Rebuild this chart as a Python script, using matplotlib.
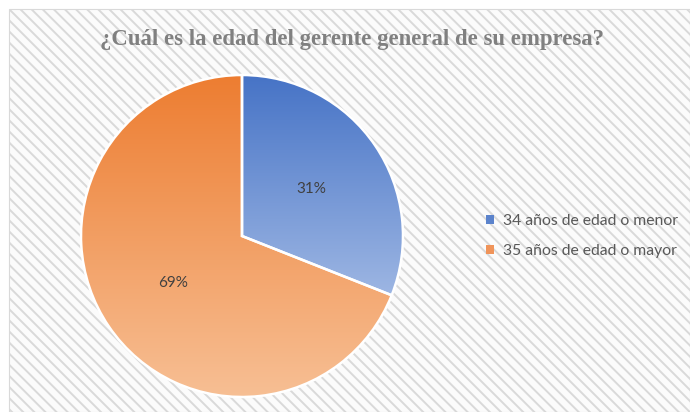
import matplotlib
matplotlib.use("Agg")
import matplotlib.pyplot as plt
import numpy as np
from matplotlib.colors import LinearSegmentedColormap
from matplotlib.patches import Rectangle, Patch

categories = ["34 años de edad o menor", "35 años de edad o mayor"]
values = [31, 69]
title = "¿Cuál es la edad del gerente general de su empresa?"
grad_top = ["#4673C6", "#ED7D31"]
grad_bottom = ["#9DB6E3", "#F7BF94"]
legend_colors = ["#5B83CC", "#F0945A"]

W, H = 690, 412
fig = plt.figure(figsize=(W / 100, H / 100), dpi=100)
fig.patch.set_facecolor("white")

# hatched chart area background
plt.rcParams["hatch.linewidth"] = 1.4
plt.rcParams["hatch.color"] = "#EBEBEB"
bg = Rectangle((9 / W, 0), 1 - 9 / W, 1 - 9 / H, transform=fig.transFigure,
               facecolor="#FBFBFB", edgecolor="#D9D9D9", hatch="\\\\\\",
               linewidth=0.8, zorder=-5)
fig.patches.append(bg)

fig.text(352 / W, 1 - 40 / H, title, ha="center", va="center",
         family="Liberation Serif", fontweight="bold", fontsize=16.4,
         color="#808080")

cx, cy, r = 242, 236, 161
ax = fig.add_axes([(cx - r) / W, (H - cy - r) / H, 2 * r / W, 2 * r / H])
ax.set_zorder(2)
ax.set_xlim(-1, 1)
ax.set_ylim(-1, 1)
ax.set_aspect("equal")
ax.axis("off")

wedges, texts, autotexts = ax.pie(
    values, startangle=90, counterclock=False, radius=1,
    autopct="%1.0f%%", pctdistance=0.52,
    wedgeprops=dict(facecolor="none", edgecolor="white", linewidth=1.8),
    textprops=dict(family="Lato", fontsize=11, color="#404040"))

for w, ct, cb in zip(wedges, grad_top, grad_bottom):
    ext = w.get_path().get_extents()
    cmap = LinearSegmentedColormap.from_list("g", [ct, cb])
    grad = np.linspace(0, 1, 256).reshape(-1, 1)
    im = ax.imshow(grad, cmap=cmap, extent=(ext.x0, ext.x1, ext.y0, ext.y1),
                   origin="upper", aspect="auto", zorder=0.5,
                   interpolation="bilinear")
    im.set_clip_path(w)
    w.set_zorder(1)
for t in autotexts:
    t.set_zorder(3)
ax.set_xlim(-1.0, 1.0)
ax.set_ylim(-1.0, 1.0)

handles = [Patch(facecolor=c, edgecolor="none") for c in legend_colors]
leg = fig.legend(handles, categories, loc="center left",
                 bbox_to_anchor=(472 / W, 1 - 236 / H), frameon=False,
                 prop=dict(family="Lato", size=11.3), labelcolor="#595959",
                 handlelength=0.5, handleheight=0.5, handletextpad=0.55,
                 labelspacing=1.05)
leg.set_zorder(3)

fig.savefig("out.png", dpi=100)
